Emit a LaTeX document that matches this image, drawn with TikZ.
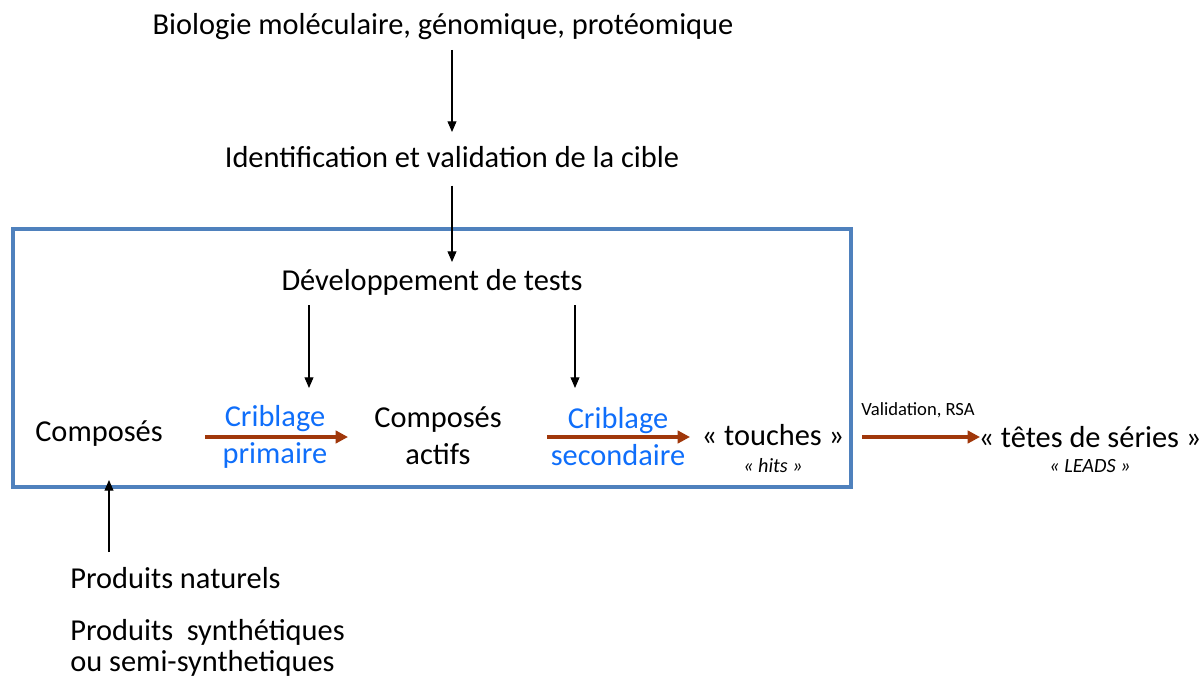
\documentclass[tikz,border=0pt]{standalone}
\usepackage{fontspec}
\setmainfont{Carlito}
\usetikzlibrary{arrows.meta,positioning}
\tikzset{>=Stealth}
\definecolor{boxblue}{RGB}{79,129,189}
\definecolor{cribblue}{RGB}{15,110,250}
\definecolor{flowbrown}{RGB}{160,55,10}
\tikzset{
    txt/.style={font=\fontsize{17.3}{21}\selectfont, inner sep=0pt, align=center},
    small/.style={font=\fontsize{10.6}{13}\selectfont, inner sep=0pt},
    hint/.style={font=\fontsize{11.5}{13}\selectfont\itshape, inner sep=0pt},
    crib/.style={txt, text=cribblue},
    flow/.style={->, flowbrown, line width=2.2pt, >={Triangle[length=7pt,width=7pt]}},
    thin/.style={->, line width=0.6pt, >={Triangle[length=6pt,width=5pt]}}
}

\begin{document}
\begin{tikzpicture}[x=0.02cm,y=-0.02cm]
    \useasboundingbox (0,0) rectangle (1203,682);
    \draw[boxblue, line width=2.2pt] (13,229) rectangle (851,487);

    \node[txt] at (443,27) (bio) {Biologie moléculaire, génomique, protéomique};
    \node[txt] at (452,157) (ident) {Identification et validation de la cible};
    \node[txt] at (432,282) (dev) {Développement de tests};
    \node[txt] at (99,434) (comp) {Composés};
    \node[crib] at (275,437) (crib1) {Criblage\\primaire};
    \node[txt] at (438,436) (actifs) {Composés\\actifs};
    \node[crib] at (618,437) (crib2) {Criblage\\secondaire};
    \node[txt] at (773,435) (touch) {« touches »};
    \node[hint] at (773,466) (hits) {« hits »};
    \node[small] at (918,410) (valid) {Validation, RSA};
    \node[txt] at (1090,437) (tetes) {« têtes de séries »};
    \node[hint] at (1090,466) (leads) {« LEADS »};
    \node[txt, anchor=west] at (70,578) (nat) {Produits naturels};
    \node[txt, anchor=west, align=left, font=\fontsize{17.3}{18}\selectfont] at (70,648) (synth) {Produits\ \ synthétiques\\ou semi-synthetiques};

    \coordinate (d1) at (309,388);
    \coordinate (d2) at (575,388);
    \coordinate (c1) at (109,480);
    \coordinate (f1a) at (205,437);
    \coordinate (f1b) at (348,437);
    \coordinate (f2a) at (547,437);
    \coordinate (f2b) at (690,437);
    \coordinate (f3a) at (862,437);
    \coordinate (f3b) at (980,437);

    \draw[thin] (452,50) -- (452,132);
    \draw[thin] ([yshift=-10]ident.south) -- (ident.south |- 0,262);
    \draw[thin] (d1 |- 0,305) -- (d1);
    \draw[thin] (d2 |- 0,305) -- (d2);
    \draw[thin] (c1 |- 0,552) -- (c1);
    \draw[flow] (f1a) -- (f1b);
    \draw[flow] (f2a) -- (f2b);
    \draw[flow] (f3a) -- (f3b);
\end{tikzpicture}
\end{document}
